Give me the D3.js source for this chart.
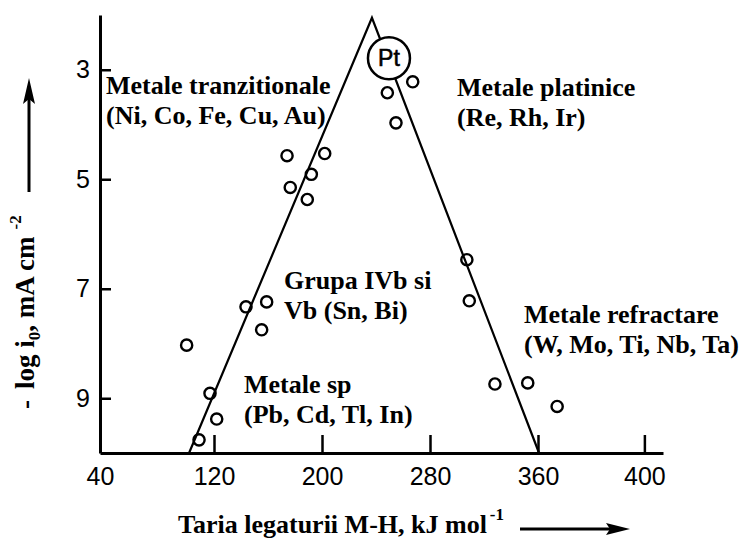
<!DOCTYPE html>
<html>
<head>
<meta charset="utf-8">
<script src="https://cdn.jsdelivr.net/npm/d3@7"></script>
<style>
  html, body { margin: 0; padding: 0; background: #fff; }
  svg { display: block; }
</style>
</head>
<body>
<svg id="chart" width="746" height="538"></svg>
<script>
// Tick labels of both axes
const xTicks = [40, 120, 200, 280, 360, 400];
const yTicks = [3, 5, 7, 9];

// Measured points: M-H bond strength (kJ/mol) and -log i0 (mA cm^-2)
const bondEnergy = [267.2, 248.4, 254.8, 174.1, 202.0, 192.1, 176.5, 189.1, 307.3, 309.1,
                    143.7, 159.0, 155.3, 100.8, 117.2, 122.0, 109.5, 328.1, 352.4, 367.2];
const minusLogI0 = [3.22, 3.42, 3.97, 4.57, 4.53, 4.91, 5.15, 5.37, 6.47, 7.22,
                    7.33, 7.24, 7.75, 8.03, 8.91, 9.38, 9.76, 8.74, 8.72, 9.15];

// Volcano branches (left foot, apex, right foot)
const volcanoX = [102.5, 237, 360.4];
const volcanoY = [10, 2.05, 10];

// Platinum, drawn as a labelled circle near the apex
const ptName = ["Pt"];
const ptX = [249.6];
const ptY = [2.79];

// Group annotations
const groupNames = [
  ["Metale tranzitionale", "(Ni, Co, Fe, Cu, Au)"],
  ["Metale platinice", "(Re, Rh, Ir)"],
  ["Grupa IVb si", "Vb (Sn, Bi)"],
  ["Metale refractare", "(W, Mo, Ti, Nb, Ta)"],
  ["Metale sp", "(Pb, Cd, Tl, In)"]
];
const groupAt = [[106, 94], [457, 96], [284, 289], [524, 323], [244, 393]];

const svg = d3.select("#chart");
const serif = "'Liberation Serif', 'Times New Roman', serif";
const sans = "'Liberation Sans', Arial, sans-serif";

// The printed axis has evenly spaced ticks, so the scale is piecewise
const x = d3.scaleLinear().domain([40, 120, 360, 407]).range([100, 214, 538, 663]);
const y = d3.scaleLinear().domain([2, 10]).range([15, 453]);

// Axes with inward ticks
const gx = svg.append("g").attr("transform", `translate(0,${y(10)})`)
  .call(d3.axisBottom(x).tickValues(xTicks).tickSize(-18).tickSizeOuter(0).tickPadding(14));
const gy = svg.append("g").attr("transform", `translate(${x(40)},0)`)
  .call(d3.axisLeft(y).tickValues(yTicks).tickSize(-11).tickSizeOuter(0).tickPadding(10));

[gx, gy].forEach(g => {
  g.select(".domain").attr("stroke", "#000").attr("stroke-width", 3);
  g.selectAll(".tick line").attr("stroke", "#000").attr("stroke-width", 2.5);
  g.selectAll(".tick text").attr("font-family", sans).attr("font-size", 25).attr("fill", "#000");
});

// Volcano lines
const line = d3.line().x(d => x(d[0])).y(d => y(d[1]));
svg.append("path")
  .attr("d", line(volcanoX.map((v, i) => [v, volcanoY[i]])))
  .attr("fill", "none").attr("stroke", "#000").attr("stroke-width", 2.2)
  .attr("stroke-linejoin", "miter");

// Data points
svg.append("g").selectAll("circle")
  .data(bondEnergy.map((v, i) => [v, minusLogI0[i]]))
  .join("circle")
  .attr("cx", d => x(d[0])).attr("cy", d => y(d[1])).attr("r", 5.6)
  .attr("fill", "none").attr("stroke", "#000").attr("stroke-width", 2.4);

// Pt marker
const pt = svg.append("g");
pt.selectAll("circle").data(ptName).join("circle")
  .attr("cx", (d, i) => x(ptX[i])).attr("cy", (d, i) => y(ptY[i])).attr("r", 21)
  .attr("fill", "#fff").attr("stroke", "#000").attr("stroke-width", 2.5);
pt.selectAll("text").data(ptName).join("text")
  .attr("x", (d, i) => x(ptX[i])).attr("y", (d, i) => y(ptY[i]) + 8)
  .attr("text-anchor", "middle").attr("font-family", sans).attr("font-size", 23)
  .attr("stroke", "#000").attr("stroke-width", 0.6)
  .text(d => d);

// Group annotations
groupNames.forEach((lines, i) => {
  const t = svg.append("text")
    .attr("font-family", serif).attr("font-weight", "bold").attr("font-size", 26);
  lines.forEach((s, j) => {
    t.append("tspan").attr("x", groupAt[i][0]).attr("y", groupAt[i][1] + j * 30).text(s);
  });
});

// X axis title with arrow
const xt = svg.append("text").attr("x", 178).attr("y", 533)
  .attr("font-family", serif).attr("font-weight", "bold").attr("font-size", 26);
xt.append("tspan").text("Taria legaturii M-H, kJ mol");
xt.append("tspan").attr("dx", 3).attr("dy", -13).attr("font-size", 17).text("-1");

svg.append("line").attr("x1", 520).attr("x2", 612).attr("y1", 529).attr("y2", 529)
  .attr("stroke", "#000").attr("stroke-width", 3);
svg.append("path").attr("d", "M630,529 L606,523 L610,529 L606,535 Z").attr("fill", "#000");

// Y axis title with arrow
const yt = svg.append("text").attr("transform", "translate(34,409) rotate(-90)")
  .attr("font-family", serif).attr("font-weight", "bold").attr("font-size", 27);
yt.append("tspan").text("-");
yt.append("tspan").attr("dx", 11).text("log i");
yt.append("tspan").attr("dy", 6).attr("font-size", 17).text("0");
yt.append("tspan").attr("dy", -6).text(", mA cm");
yt.append("tspan").attr("dx", 7).attr("dy", -13).attr("font-size", 17).text("-2");

svg.append("line").attr("x1", 29).attr("x2", 29).attr("y1", 192).attr("y2", 96)
  .attr("stroke", "#000").attr("stroke-width", 3);
svg.append("path").attr("d", "M29,78 L23,104 L29,99 L35,104 Z").attr("fill", "#000");
</script>
</body>
</html>
